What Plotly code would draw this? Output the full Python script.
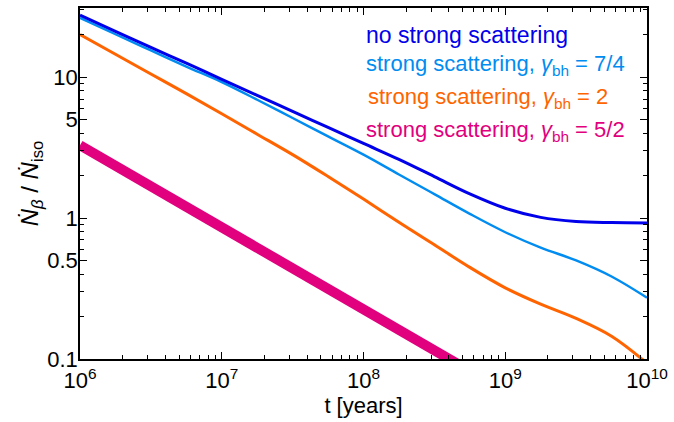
import plotly.graph_objects as go

# time grid (years), quarter-decade steps
t_years = [1e6, 1.778e6, 3.162e6, 5.623e6, 1e7, 1.778e7, 3.162e7, 5.623e7, 1e8,
           1.778e8, 3.162e8, 5.623e8, 1e9, 1.778e9, 3.162e9, 5.623e9, 1e10]

no_strong = [27.54, 21.18, 16.29, 12.56, 9.66, 7.43, 5.71, 4.41, 3.39,
             2.61, 1.97, 1.486, 1.175, 1.012, 0.946, 0.929, 0.923]
strong_7_4 = [26.36, 20.18, 15.49, 11.89, 9.23, 6.92, 5.13, 3.80, 2.82,
              2.04, 1.479, 1.072, 0.794, 0.617, 0.501, 0.385, 0.272]
strong_2 = [20.09, 14.55, 10.54, 7.64, 5.50, 3.94, 2.82, 1.972, 1.365,
            0.933, 0.646, 0.447, 0.320, 0.245, 0.194, 0.145, 0.0933]

t_magenta = [1e6, 1e7, 1e8, 1e9, 1e10]
strong_5_2 = [3.29, 0.86, 0.225, 0.059, 0.0154]

labels = ["no strong scattering",
          "strong scattering, <i>γ</i><sub>bh</sub> = 7/4",
          "strong scattering, <i>γ</i><sub>bh</sub> = 2",
          "strong scattering, <i>γ</i><sub>bh</sub> = 5/2"]
colors = ["rgb(0,0,235)", "rgb(0,140,240)", "rgb(255,100,0)", "rgb(225,0,125)"]

x_major = [1e6, 1e7, 1e8, 1e9, 1e10]
x_major_text = ["10<sup>6</sup>", "10<sup>7</sup>", "10<sup>8</sup>", "10<sup>9</sup>", "10<sup>10</sup>"]
y_major = [0.1, 0.5, 1, 5, 10]
y_major_text = ["0.1", "0.5", "1", "5", "10"]

x_minor = [m * 10 ** k for k in range(6, 10) for m in range(2, 10)]
y_minor = [m * 10 ** k for k in (-1, 0, 1) for m in range(2, 10) if m != 5]

FONT = "Liberation Sans, Arial"

fig = go.Figure()
fig.add_trace(go.Scatter(x=t_magenta, y=strong_5_2, mode="lines",
                         line=dict(color=colors[3], width=10)))
fig.add_trace(go.Scatter(x=t_years, y=strong_2, mode="lines",
                         line=dict(color=colors[2], width=3, shape="spline", smoothing=1)))
fig.add_trace(go.Scatter(x=t_years, y=strong_7_4, mode="lines",
                         line=dict(color=colors[1], width=2.4, shape="spline", smoothing=1)))
fig.add_trace(go.Scatter(x=t_years, y=no_strong, mode="lines",
                         line=dict(color=colors[0], width=3, shape="spline", smoothing=1)))

ys = [33, 63, 97, 130]
xs = [365, 365, 368, 366]
sizes = [23, 22, 22, 22]
for lab, col, yy, xx, sz in zip(labels, colors, ys, xs, sizes):
    fig.add_annotation(text=lab, xref="paper", yref="paper",
                       x=(xx - 80) / 570, y=(359 - yy) / 353,
                       xanchor="left", yanchor="middle", showarrow=False,
                       font=dict(color=col, size=sz, family=FONT))

axis_common = dict(type="log", showgrid=False, zeroline=False, showline=True,
                   linecolor="black", linewidth=1.5, mirror="allticks",
                   ticks="inside", ticklen=7, tickwidth=1.2, tickcolor="black",
                   tickfont=dict(size=22, color="black", family=FONT))

fig.update_xaxes(**axis_common, range=[6, 10], tickmode="array",
                 tickvals=x_major, ticktext=x_major_text, ticklabelstandoff=1,
                 minor=dict(tickvals=x_minor, ticks="inside", ticklen=4,
                            tickwidth=1, tickcolor="black"),
                 title=dict(text="t [years]", font=dict(size=22, color="black",
                            family=FONT), standoff=1))
fig.update_yaxes(**axis_common, range=[-1, 1.491], tickmode="array",
                 tickvals=y_major, ticktext=y_major_text, ticklabelstandoff=-4,
                 minor=dict(tickvals=y_minor, ticks="inside", ticklen=4,
                            tickwidth=1, tickcolor="black"),
                 title=dict(text="<i>Ṅ</i><sub><i>β</i></sub> / <i>Ṅ</i><sub>iso</sub>",
                            font=dict(size=24, color="black", family=FONT), standoff=2))

fig.update_layout(width=674, height=422, showlegend=False,
                  margin=dict(l=80, r=24, t=6, b=63),
                  plot_bgcolor="white", paper_bgcolor="white")

fig.write_html("out.html")
